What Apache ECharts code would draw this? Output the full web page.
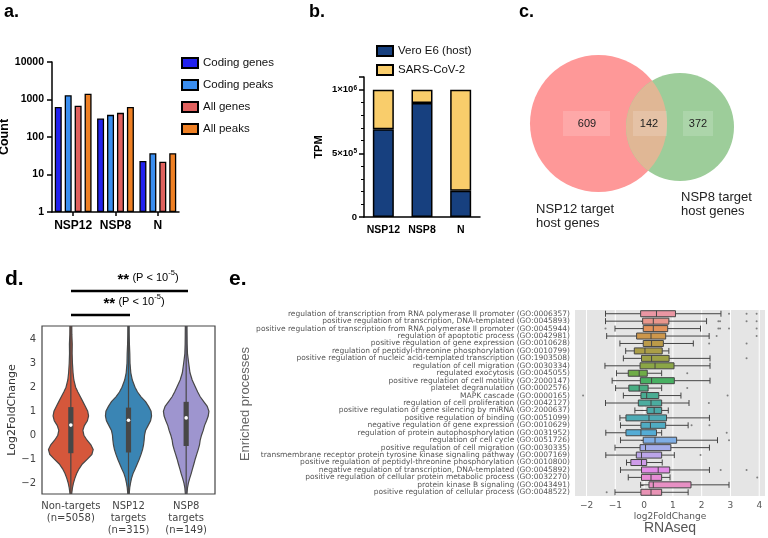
<!DOCTYPE html>
<html><head><meta charset="utf-8">
<script src="https://cdn.jsdelivr.net/npm/echarts@6/dist/echarts.min.js"></script>
<style>html,body{margin:0;padding:0;background:#fff}#c{width:768px;height:538px}</style>
</head><body><div id="c"></div>
<script>
// ---------- Panel a ----------
const aCategories = ['NSP12', 'NSP8', 'N'];
const aSeriesNames = ['Coding genes', 'Coding peaks', 'All genes', 'All peaks'];
const aCodingGenes = [630, 310, 23];
const aCodingPeaks = [1300, 390, 37];
const aAllGenes = [680, 440, 22];
const aAllPeaks = [1420, 630, 37];

// ---------- Panel b ----------
const bCategories = ['NSP12', 'NSP8', 'N'];
const bSeriesNames = ['Vero E6 (host)', 'SARS-CoV-2'];
const bHost = [690000, 895000, 207000];
const bViral = [310000, 105000, 793000];

// ---------- Panel c ----------
const cSetNames = ['NSP12 target\nhost genes', 'NSP8 target\nhost genes'];
const cCounts = [609, 142, 372];

// ---------- Panel d ----------
const dCategories = ['Non-targets\n(n=5058)', 'NSP12\ntargets\n(n=315)', 'NSP8\ntargets\n(n=149)'];
const dYTicks = [-2, -1, 0, 1, 2, 3, 4];
const dLevels = [-2.7, -2.45, -2.2, -2.0, -1.8, -1.6, -1.4, -1.2, -1.0, -0.8, -0.6, -0.4, -0.2, 0, 0.2, 0.4, 0.6, 0.8, 1.0, 1.2, 1.4, 1.6, 1.8, 2.0, 2.3, 2.6, 3.0, 3.4, 3.8, 4.2, 4.7];
const dDensityNonTargets = [0.6, 0.8, 1.6, 2.6, 4.0, 5.8, 8.2, 11.5, 16.5, 21.0, 22.3, 20.0, 16.0, 13.0, 12.0, 13.5, 16.5, 17.7, 16.8, 14.5, 12.0, 9.5, 7.0, 4.8, 3.0, 2.2, 1.6, 1.3, 1.4, 1.0, 0.9];
const dDensityNsp12 = [0.5, 0.7, 1.2, 2.0, 3.0, 4.5, 6.7, 8.7, 10.7, 12.5, 14.0, 15.0, 15.6, 16.0, 17.0, 19.5, 22.0, 23.0, 22.5, 20.0, 17.0, 12.5, 9.0, 6.5, 3.8, 2.3, 1.5, 1.3, 0.9, 0.7, 0.6];
const dDensityNsp8 = [0.6, 0.8, 1.3, 2.2, 3.5, 5.0, 6.3, 7.7, 9.0, 10.5, 12.0, 13.3, 14.0, 15.3, 17.0, 18.3, 20.3, 22.0, 22.7, 21.0, 17.5, 14.0, 11.5, 9.3, 6.0, 3.8, 2.5, 1.3, 1.0, 0.9, 0.8];
const dQ1 = [-0.75, -0.72, -0.45];
const dMedian = [0.42, 0.62, 0.72];
const dQ3 = [1.17, 1.15, 1.39];

// ---------- Panel e ----------
const eProcesses = [
 'regulation of transcription from RNA polymerase II promoter (GO:0006357)',
 'positive regulation of transcription, DNA-templated (GO:0045893)',
 'positive regulation of transcription from RNA polymerase II promoter (GO:0045944)',
 'regulation of apoptotic process (GO:0042981)',
 'positive regulation of gene expression (GO:0010628)',
 'regulation of peptidyl-threonine phosphorylation (GO:0010799)',
 'positive regulation of nucleic acid-templated transcription (GO:1903508)',
 'regulation of cell migration (GO:0030334)',
 'regulated exocytosis (GO:0045055)',
 'positive regulation of cell motility (GO:2000147)',
 'platelet degranulation (GO:0002576)',
 'MAPK cascade (GO:0000165)',
 'regulation of cell proliferation (GO:0042127)',
 'positive regulation of gene silencing by miRNA (GO:2000637)',
 'positive regulation of binding (GO:0051099)',
 'negative regulation of gene expression (GO:0010629)',
 'regulation of protein autophosphorylation (GO:0031952)',
 'regulation of cell cycle (GO:0051726)',
 'positive regulation of cell migration (GO:0030335)',
 'transmembrane receptor protein tyrosine kinase signaling pathway (GO:0007169)',
 'positive regulation of peptidyl-threonine phosphorylation (GO:0010800)',
 'negative regulation of transcription, DNA-templated (GO:0045892)',
 'positive regulation of cellular protein metabolic process (GO:0032270)',
 'protein kinase B signaling (GO:0043491)',
 'positive regulation of cellular process (GO:0048522)'
];
const eWhiskerLow  = [-1.34, -1.34, -1.01, -1.30, -0.84, -0.64, -0.72, -1.36, -0.96, -1.11, -0.99, -0.72, -1.34, -0.32, -0.84, -0.82, -1.33, -0.82, -1.01, -1.33, -0.61, -0.82, -0.55, -0.12, -1.01];
const eQ1          = [-0.12, -0.05, -0.03, -0.26, -0.03, -0.34, -0.09, -0.14, -0.55, -0.13, -0.53, -0.11, -0.20, 0.10, -0.63, -0.11, -0.63, -0.03, -0.14, -0.27, -0.46, -0.09, -0.09, 0.17, -0.11];
const eMedian      = [0.43, 0.32, 0.32, 0.24, 0.26, 0.03, 0.26, 0.38, -0.17, 0.26, -0.17, 0.09, 0.24, 0.35, 0.17, 0.22, -0.11, 0.38, 0.05, -0.09, -0.09, 0.49, 0.24, 0.32, 0.24];
const eQ3          = [1.09, 0.86, 0.82, 0.75, 0.67, 0.63, 0.87, 1.04, 0.11, 1.05, 0.14, 0.51, 0.61, 0.61, 0.78, 0.75, 0.43, 1.13, 0.93, 0.61, 0.09, 0.89, 0.61, 1.63, 0.61];
const eWhiskerHigh = [2.67, 2.17, 1.96, 2.26, 1.71, 0.86, 2.29, 2.29, 0.61, 2.29, 0.61, 1.28, 1.56, 0.84, 2.27, 1.53, 0.61, 2.55, 2.27, 1.05, 0.63, 2.27, 0.90, 2.95, 1.53];
const eOutliers = [
 [2.95, 3.56, 3.91], [2.58, 2.64, 3.56, 3.91], [-1.34, 2.58, 2.64, 2.95, 3.91], [2.52, 3.91], [2.26, 3.56],
 [], [3.56], [], [1.5], [], [1.5], [-2.12, 2.9], [2.25], [], [], [1.65, 2.27], [2.87], [2.95], [], [1.96],
 [], [2.66, 3.56], [3.93], [], [-1.3]
];
const eXTicks = [-2, -1, 0, 1, 2, 3, 4];

// ---------- helpers ----------
const FA = '"Liberation Sans", Arial, Helvetica, sans-serif';
const FD = '"DejaVu Sans", sans-serif';
const minus = v => String(v).replace('-', '\u2212');

function huslToRgb(H, S, L) {
  const m = [[3.2406, -1.5372, -0.4986], [-0.9689, 1.8758, 0.0415], [0.0557, -0.2040, 1.0570]];
  const refU = 0.19784, refV = 0.46834, labE = 0.008856, labK = 903.3;
  const hrad = H / 180 * Math.PI, sinH = Math.sin(hrad), cosH = Math.cos(hrad);
  const sub1 = Math.pow(L + 16, 3) / 1560896, sub2 = sub1 > labE ? sub1 : L / labK;
  let mx = Infinity;
  for (const [m1, m2, m3] of m) {
    const top = (0.99915 * m1 + 1.05122 * m2 + 1.14460 * m3) * sub2;
    const rb = 0.86330 * m3 - 0.17266 * m2, lb = 0.12949 * m3 - 0.38848 * m1;
    const bottom = (rb * sinH + lb * cosH) * sub2;
    for (const t of [0, 1]) {
      const C = L * (top - 1.05122 * t) / (bottom + 0.17266 * sinH * t);
      if (C > 0 && C < mx) mx = C;
    }
  }
  const C = mx / 100 * S;
  const U = C * cosH, V = C * sinH;
  const t = (L + 16) / 116;
  const Y = t * t * t > labE ? t * t * t : (116 * t - 16) / labK;
  const varU = U / (13 * L) + refU, varV = V / (13 * L) + refV;
  const X = 0 - (9 * Y * varU) / ((varU - 4) * varV - varU * varV);
  const Z = (9 * Y - 15 * varV * Y - varV * X) / (3 * varV);
  return m.map(r => {
    let c = r[0] * X + r[1] * Y + r[2] * Z;
    c = c <= 0.0031308 ? 12.92 * c : 1.055 * Math.pow(c, 1 / 2.4) - 0.055;
    return Math.min(1, Math.max(0, c));
  });
}
function lightness(c) { return (Math.max(...c) + Math.min(...c)) / 2; }
function desat(c, p) { const l = lightness(c); return c.map(v => l + (v - l) * p); }
function hex(c) { return '#' + c.map(v => Math.round(v * 255).toString(16).padStart(2, '0')).join(''); }

const nE = eProcesses.length;
const eRaw = eProcesses.map((_, i) => huslToRgb(((i / nE + 0.01) % 1) * 359, 89.1, 69.3));
const eColors = eRaw.map(c => hex(desat(c, 0.75)));
const lum = Math.min(...eRaw.map(lightness)) * 0.6;
const eGray = hex([lum, lum, lum]);

const dColors = ['#d5573b', '#3a85b4', '#9e95cf'];
const dDensities = [dDensityNonTargets, dDensityNsp12, dDensityNsp8];
const dMaxDensity = Math.max(...dDensities.map(a => Math.max(...a)));

// venn geometry (layout)
const V1 = { x: 598.5, y: 123.5, r: 68.5 }, V2 = { x: 680, y: 127, r: 54 };
function lensPoints() {
  const dx = V2.x - V1.x, dy = V2.y - V1.y, d = Math.hypot(dx, dy);
  const a = (V1.r * V1.r - V2.r * V2.r + d * d) / (2 * d);
  const t0 = Math.atan2(dy, dx);
  const a1 = Math.acos(a / V1.r), a2 = Math.acos((d - a) / V2.r);
  const pts = [], N = 48;
  for (let k = 0; k <= N; k++) { const t = t0 - a1 + 2 * a1 * k / N; pts.push([V1.x + V1.r * Math.cos(t), V1.y + V1.r * Math.sin(t)]); }
  for (let k = 0; k <= N; k++) { const t = t0 + Math.PI - a2 + 2 * a2 * k / N; pts.push([V2.x + V2.r * Math.cos(t), V2.y + V2.r * Math.sin(t)]); }
  return pts;
}

const chart = echarts.init(document.getElementById('c'), null, { renderer: 'canvas', width: 768, height: 538 });

const blackAxis = { lineStyle: { color: '#000', width: 1.5 } };
const aColors = ['#2222f0', '#3a8ef0', '#e0615e', '#ef8024'];
const aData = [aCodingGenes, aCodingPeaks, aAllGenes, aAllPeaks];

function renderViolin(params, api) {
  const i = api.value(0);
  const dens = dDensities[i];
  const band = api.size([1, 0])[0];
  const right = [], left = [];
  for (let k = 0; k < dLevels.length; k++) {
    const p = api.coord([i, dLevels[k]]);
    const hw = dens[k] / dMaxDensity * 0.4 * band;
    right.push([p[0] + hw, p[1]]);
    left.unshift([p[0] - hw, p[1]]);
  }
  const cx = api.coord([i, 0])[0];
  const yq1 = api.coord([i, api.value(1)])[1], ym = api.coord([i, api.value(2)])[1], yq3 = api.coord([i, api.value(3)])[1];
  const yTop = api.coord([i, dLevels[dLevels.length - 1]])[1], yBot = api.coord([i, dLevels[0]])[1];
  return { type: 'group', children: [
    { type: 'polygon', shape: { points: right.concat(left) }, style: { fill: dColors[i], stroke: '#474747', lineWidth: 1.2 } },
    { type: 'line', shape: { x1: cx, y1: yTop, x2: cx, y2: yBot }, style: { stroke: '#474747', lineWidth: 1.2 } },
    { type: 'rect', shape: { x: cx - 2.6, y: yq3, width: 5.2, height: yq1 - yq3 }, style: { fill: '#474747' } },
    { type: 'circle', shape: { cx: cx, cy: ym, r: 1.8 }, style: { fill: '#fff' } }
  ] };
}

function renderGridLine(params, api) {
  const x = api.coord([api.value(0), 0])[0];
  const cs = params.coordSys;
  return { type: 'line', shape: { x1: x, y1: cs.y, x2: x, y2: cs.y + cs.height }, style: { stroke: '#ffffff', lineWidth: 1 } };
}

const sigRich = {
  s: { fontSize: 15, fontWeight: 'bold', fontFamily: FA, fill: '#000', color: '#000', padding: [4, 0, 0, 0] },
  t: { fontSize: 11, fontFamily: FA, color: '#000', fill: '#000' },
  u: { fontSize: 7.5, fontFamily: FA, color: '#000', fill: '#000', verticalAlign: 'top', padding: [0, 0, 6, 0] }
};

const option = {
  animation: false,
  backgroundColor: '#fff',
  grid: [
    { left: 52, top: 62, width: 127, height: 150, outerBoundsMode: 'none', containLabel: false },
    { left: 364, top: 77, width: 116, height: 140, outerBoundsMode: 'none', containLabel: false },
    { left: 42, top: 326, width: 173, height: 168, show: true, borderColor: '#444', borderWidth: 1.2, backgroundColor: 'transparent', outerBoundsMode: 'none', containLabel: false },
    { left: 575, top: 310, width: 190, height: 186, show: true, borderWidth: 0, backgroundColor: '#e5e5e5', outerBoundsMode: 'none', containLabel: false }
  ],
  legend: [
    { data: aSeriesNames, orient: 'vertical', left: 176, top: 52, itemWidth: 16, itemHeight: 10, itemGap: 10, icon: 'rect', selectedMode: false,
      textStyle: { fontFamily: FA, fontSize: 11.5, color: '#111' } },
    { data: bSeriesNames, orient: 'vertical', left: 371, top: 40, itemWidth: 16, itemHeight: 10, itemGap: 7, icon: 'rect', selectedMode: false,
      textStyle: { fontFamily: FA, fontSize: 11.5, color: '#111' } }
  ],
  xAxis: [
    { gridIndex: 0, type: 'category', data: aCategories, axisLine: blackAxis,
      axisTick: { show: true, alignWithLabel: true, length: 4, lineStyle: { color: '#000', width: 1.5 } },
      axisLabel: { interval: 0, fontFamily: FA, fontWeight: 'bold', fontSize: 12, color: '#000', margin: 8 } },
    { gridIndex: 1, type: 'category', data: bCategories, axisLine: blackAxis, axisTick: { show: false },
      axisLabel: { interval: 0, fontFamily: FA, fontWeight: 'bold', fontSize: 10.5, color: '#000', margin: 8 } },
    { gridIndex: 2, type: 'category', data: dCategories, axisLine: { show: false }, axisTick: { show: false },
      axisLabel: { interval: 0, fontFamily: FD, fontSize: 10, color: '#444', lineHeight: 12, margin: 6 } },
    { gridIndex: 3, type: 'value', min: -2.4, max: 4.2, axisLine: { show: false }, splitLine: { show: false },
      axisTick: { show: false },
      axisLabel: { customValues: eXTicks, formatter: v => minus(v), fontFamily: FD, fontSize: 9, color: '#555', margin: 5 },
      name: 'log2FoldChange', nameLocation: 'middle', nameGap: 16, nameTextStyle: { fontFamily: FD, fontSize: 9, color: '#555' } }
  ],
  yAxis: [
    { gridIndex: 0, type: 'log', logBase: 10, min: 1, max: 10000, axisLine: { show: true, lineStyle: { color: '#000', width: 1.5 } },
      axisTick: { show: true, length: 5, lineStyle: { color: '#000', width: 1.5 } }, splitLine: { show: false }, minorTick: { show: false },
      axisLabel: { formatter: v => String(Math.round(v)), fontFamily: FA, fontWeight: 'bold', fontSize: 10.5, color: '#000', margin: 8 },
      name: 'Count', nameLocation: 'middle', nameGap: 30, nameTextStyle: { fontFamily: FA, fontWeight: 'bold', fontSize: 12.5, color: '#000' } },
    { gridIndex: 1, type: 'value', min: 0, max: 1100000, interval: 500000, axisLine: { show: true, lineStyle: { color: '#000', width: 1.5 } },
      axisTick: { show: true, length: 5, lineStyle: { color: '#000', width: 1.5 } },
      minorTick: { show: true, splitNumber: 5, length: 3, lineStyle: { color: '#000', width: 1 } },
      splitLine: { show: false },
      axisLabel: { showMaxLabel: false, margin: 7, fontFamily: FA, fontWeight: 'bold', fontSize: 9.5, color: '#000',
        formatter: v => v === 0 ? '0' : (v === 1000000 ? '1×10{sup|6}' : (v === 500000 ? '5×10{sup|5}' : '')),
        rich: { sup: { fontSize: 6.5, fontWeight: 'bold', fontFamily: FA, color: '#000', verticalAlign: 'top', padding: [0, 0, 4, 0] } } },
      name: 'TPM', nameLocation: 'middle', nameGap: 40, nameTextStyle: { fontFamily: FA, fontWeight: 'bold', fontSize: 11, color: '#000' } },
    { gridIndex: 2, type: 'value', min: -2.45, max: 4.55, axisLine: { show: false }, axisTick: { show: false }, splitLine: { show: false },
      axisLabel: { customValues: dYTicks, formatter: v => minus(v), fontFamily: FD, fontSize: 10, color: '#444', margin: 6 },
      name: 'Log2FoldChange', nameLocation: 'middle', nameGap: 22, nameTextStyle: { fontFamily: FD, fontSize: 11, color: '#333' } },
    { gridIndex: 3, type: 'category', data: eProcesses, inverse: true, axisLine: { show: false },
      axisTick: { show: true, alignWithLabel: true, length: 3, lineStyle: { color: '#555' } }, splitLine: { show: false },
      axisLabel: { interval: 0, fontFamily: FD, fontSize: 7.5, color: '#555', margin: 5 } }
  ],
  series: [
    ...aSeriesNames.map((n, k) => ({
      name: n, type: 'bar', xAxisIndex: 0, yAxisIndex: 0, data: aData[k], barWidth: 7, barGap: '42%',
      itemStyle: { color: aColors[k], borderColor: '#000', borderWidth: 1.3 }
    })),
    { name: bSeriesNames[0], type: 'bar', xAxisIndex: 1, yAxisIndex: 1, stack: 'b', data: bHost, barWidth: 21,
      itemStyle: { color: '#17407f', borderColor: '#000', borderWidth: 1.5 } },
    { name: bSeriesNames[1], type: 'bar', xAxisIndex: 1, yAxisIndex: 1, stack: 'b', data: bViral, barWidth: 21,
      itemStyle: { color: '#f9cd6b', borderColor: '#000', borderWidth: 1.5 } },
    { type: 'custom', xAxisIndex: 2, yAxisIndex: 2, clip: true, renderItem: renderViolin,
      data: dCategories.map((c, i) => [i, dQ1[i], dMedian[i], dQ3[i]]), encode: { x: 0, y: [1, 2, 3] }, z: 2 },
    { type: 'custom', xAxisIndex: 3, yAxisIndex: 3, renderItem: renderGridLine, data: eXTicks.map(v => [v, 0]), encode: { x: 0, y: 1 }, z: 1, silent: true },
    { type: 'boxplot', xAxisIndex: 3, yAxisIndex: 3, boxWidth: [6, 6], z: 3,
      data: eProcesses.map((p, i) => ({ value: [eWhiskerLow[i], eQ1[i], eMedian[i], eQ3[i], eWhiskerHigh[i]],
        itemStyle: { color: eColors[i], borderColor: eGray, borderWidth: 1 } })) },
    { type: 'scatter', xAxisIndex: 3, yAxisIndex: 3, symbolSize: 2, z: 4, itemStyle: { color: '#666' },
      data: eOutliers.flatMap((arr, i) => arr.map(v => [v, i])) }
  ],
  graphic: [
    { type: 'text', x: 4, y: 3, style: { text: 'a.', font: 'bold 18px ' + FA, fill: '#000' } },
    { type: 'text', x: 309, y: 3, style: { text: 'b.', font: 'bold 18px ' + FA, fill: '#000' } },
    { type: 'text', x: 519, y: 3, style: { text: 'c.', font: 'bold 18px ' + FA, fill: '#000' } },
    { type: 'text', x: 5, y: 269, style: { text: 'd.', font: 'bold 21px ' + FA, fill: '#000' } },
    { type: 'text', x: 229, y: 269, style: { text: 'e.', font: 'bold 21px ' + FA, fill: '#000' } },
    // Venn
    { type: 'circle', shape: { cx: V1.x, cy: V1.y, r: V1.r }, style: { fill: '#fe9898' } },
    { type: 'circle', shape: { cx: V2.x, cy: V2.y, r: V2.r }, style: { fill: '#9dcd9a' } },
    { type: 'polygon', shape: { points: lensPoints() }, style: { fill: '#e0b795' } },
    { type: 'rect', shape: { x: 563, y: 111, width: 47, height: 25 }, style: { fill: 'rgba(255,255,255,0.16)' } },
    { type: 'rect', shape: { x: 633, y: 111, width: 34, height: 25 }, style: { fill: 'rgba(255,255,255,0.16)' } },
    { type: 'rect', shape: { x: 683, y: 111, width: 30, height: 25 }, style: { fill: 'rgba(255,255,255,0.16)' } },
    { type: 'text', x: 587, y: 123.5, style: { text: String(cCounts[0]), font: '11px ' + FA, fill: '#222', align: 'center', verticalAlign: 'middle' } },
    { type: 'text', x: 649, y: 123.5, style: { text: String(cCounts[1]), font: '11px ' + FA, fill: '#222', align: 'center', verticalAlign: 'middle' } },
    { type: 'text', x: 698, y: 123.5, style: { text: String(cCounts[2]), font: '11px ' + FA, fill: '#222', align: 'center', verticalAlign: 'middle' } },
    { type: 'text', x: 536, y: 203, style: { text: cSetNames[0], font: '13px ' + FA, fill: '#222', lineHeight: 13.5 } },
    { type: 'text', x: 681, y: 191, style: { text: cSetNames[1], font: '13px ' + FA, fill: '#222', lineHeight: 13.5 } },
    // significance
    { type: 'line', shape: { x1: 71, y1: 291, x2: 188, y2: 291 }, style: { stroke: '#000', lineWidth: 2.5 } },
    { type: 'line', shape: { x1: 71, y1: 315, x2: 130, y2: 315 }, style: { stroke: '#000', lineWidth: 2.5 } },
    { type: 'text', x: 148, y: 278, style: { text: '{s|**} {t|(P < 10}{u|-5}{t|)}', rich: sigRich, align: 'center', verticalAlign: 'middle' } },
    { type: 'text', x: 134, y: 302, style: { text: '{s|**} {t|(P < 10}{u|-5}{t|)}', rich: sigRich, align: 'center', verticalAlign: 'middle' } },
    // panel e titles
    { type: 'text', x: 245, y: 404, rotation: Math.PI / 2, style: { text: 'Enriched processes', font: '13px ' + FA, fill: '#666', align: 'center', verticalAlign: 'middle' } },
    { type: 'text', x: 670, y: 528, style: { text: 'RNAseq', font: '14px ' + FA, fill: '#555', align: 'center', verticalAlign: 'middle' } }
  ]
};
chart.setOption(option);
</script>
</body></html>
